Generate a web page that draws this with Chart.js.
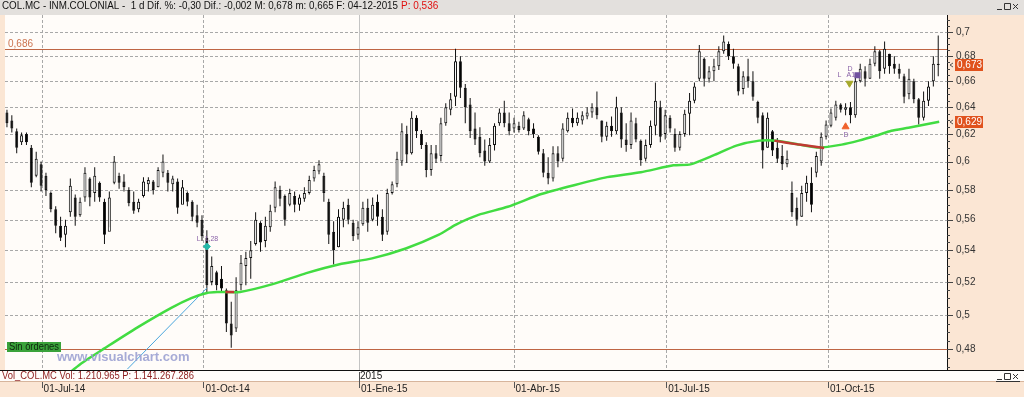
<!DOCTYPE html>
<html>
<head>
<meta charset="utf-8">
<script src="https://cdn.jsdelivr.net/npm/chart.js@4/dist/chart.umd.min.js"></script>
<style>
html, body { margin: 0; padding: 0; background: #fbe6d4; }
#wrap { width: 1024px; height: 397px; }
</style>
</head>
<body>
<div id="wrap"><canvas id="chart" width="1024" height="397"></canvas></div>
<script>
// candles, one candle per two sessions (Jun-14 .. 04-Dec-15)
const highs = [
  .638,.634,.624,.621,.621,.612,.607,.600,.592,.579,.569,.562,
  .560,.588,.577,.575,.596,.589,.596,.586,.574,.579,.604,.592,
  .591,.582,.579,.574,.589,.589,.587,.596,.605,.594,.590,.588,
  .587,.579,.573,.570,.563,.553,.536,.527,.530,.516,.508,.523,
  .537,.539,.546,.565,.559,.562,.570,.586,.583,.577,.581,.579,
  .577,.582,.590,.597,.601,.592,.574,.559,.567,.572,.574,.560,
  .559,.572,.574,.575,.577,.567,.581,.586,.607,.628,.626,.637,
  .634,.623,.614,.612,.612,.632,.643,.651,.686,.680,.658,.647,
  .636,.625,.616,.617,.628,.639,.645,.636,.632,.629,.637,.632,
  .628,.619,.609,.603,.611,.611,.628,.636,.639,.636,.637,.640,
  .643,.652,.630,.629,.633,.648,.640,.628,.636,.632,.616,.616,
  .630,.659,.645,.638,.634,.624,.622,.638,.651,.659,.689,.679,
  .672,.678,.688,.697,.692,.686,.674,.668,.678,.668,.645,.636,
  .636,.623,.617,.612,.608,.586,.575,.583,.590,.596,.607,.621,
  .630,.639,.645,.643,.643,.644,.666,.674,.672,.678,.688,.685,
  .692,.682,.680,.674,.666,.670,.662,.647,.652,.660,.680,.697
];
const lows = [
  .625,.621,.606,.612,.612,.582,.589,.579,.576,.565,.551,.546,
  .542,.562,.556,.562,.572,.569,.572,.572,.544,.555,.584,.581,
  .579,.569,.564,.565,.575,.579,.577,.582,.589,.579,.579,.564,
  .574,.569,.559,.555,.546,.513,.518,.515,.514,.490,.481,.490,
  .515,.518,.522,.543,.539,.542,.552,.565,.569,.556,.569,.565,
  .566,.572,.577,.586,.591,.572,.544,.531,.542,.555,.557,.546,
  .547,.556,.552,.559,.556,.546,.550,.577,.582,.597,.599,.605,
  .617,.609,.589,.590,.599,.600,.626,.634,.641,.647,.628,.617,
  .612,.603,.597,.599,.608,.626,.625,.619,.621,.621,.623,.619,
  .617,.605,.589,.584,.586,.596,.600,.621,.625,.626,.627,.631,
  .632,.631,.614,.615,.618,.620,.610,.607,.609,.614,.597,.600,
  .610,.619,.614,.616,.621,.607,.608,.618,.619,.643,.660,.656,
  .659,.660,.669,.682,.677,.670,.649,.650,.655,.645,.628,.595,
  .610,.604,.599,.594,.596,.562,.556,.562,.572,.565,.589,.597,
  .616,.625,.630,.636,.634,.628,.632,.659,.656,.662,.672,.662,
  .666,.666,.666,.662,.643,.646,.643,.627,.630,.641,.656,.664
];
const opens = [
  .636,.630,.622,.614,.620,.610,.590,.598,.590,.578,.567,.556,
  .550,.565,.575,.563,.575,.588,.578,.585,.572,.552,.585,.590,
  .586,.580,.572,.567,.576,.584,.586,.582,.592,.592,.584,.586,
  .570,.578,.572,.563,.560,.548,.520,.526,.522,.515,.495,.492,
  .518,.530,.535,.544,.558,.546,.555,.568,.580,.576,.570,.576,
  .570,.574,.578,.588,.593,.590,.572,.552,.542,.560,.570,.558,
  .550,.557,.568,.560,.572,.562,.552,.578,.584,.600,.620,.606,
  .632,.620,.612,.594,.606,.604,.628,.638,.648,.676,.655,.642,
  .624,.618,.608,.600,.612,.628,.636,.628,.624,.626,.624,.631,
  .624,.618,.606,.592,.588,.606,.602,.622,.632,.628,.630,.633,
  .636,.640,.630,.618,.626,.622,.636,.616,.612,.628,.615,.602,
  .612,.626,.640,.620,.632,.620,.610,.620,.635,.645,.662,.678,
  .662,.668,.672,.684,.690,.680,.672,.654,.664,.660,.644,.634,
  .610,.622,.610,.604,.598,.578,.568,.562,.578,.585,.592,.600,
  .618,.626,.632,.642,.638,.640,.634,.660,.668,.662,.674,.684,
  .670,.682,.674,.670,.664,.650,.660,.646,.632,.645,.660,.674
];
const closes = [
  .628,.624,.610,.619,.614,.585,.602,.583,.580,.567,.556,.548,
  .556,.583,.562,.572,.592,.575,.590,.575,.550,.575,.600,.585,
  .582,.571,.566,.572,.586,.587,.580,.594,.600,.585,.588,.568,
  .582,.572,.562,.558,.549,.518,.530,.518,.516,.495,.488,.515,
  .532,.535,.540,.560,.545,.556,.566,.582,.574,.560,.578,.570,
  .575,.578,.587,.594,.598,.578,.550,.540,.562,.568,.560,.549,
  .555,.568,.558,.570,.562,.550,.578,.584,.602,.622,.605,.632,
  .622,.612,.594,.606,.602,.628,.640,.646,.676,.655,.640,.622,
  .616,.606,.600,.612,.626,.636,.628,.622,.628,.623,.634,.622,
  .620,.607,.592,.588,.606,.600,.624,.632,.628,.632,.634,.636,
  .640,.634,.618,.626,.622,.640,.616,.612,.630,.616,.601,.612,
  .626,.645,.618,.634,.624,.610,.620,.635,.645,.656,.684,.662,
  .668,.672,.684,.692,.680,.674,.652,.664,.660,.648,.632,.608,
  .632,.608,.602,.598,.602,.565,.560,.578,.585,.570,.604,.618,
  .627,.636,.642,.638,.640,.634,.660,.670,.662,.674,.684,.668,
  .686,.672,.670,.666,.648,.662,.646,.632,.645,.656,.674,.673
];

// long moving average, read at candle positions
const maIdx = [13.3, 15.3, 20.0, 26.7, 33.7, 37.8, 41.0, 43.1, 47.8, 54.5, 61.4, 68.2,
  74.9, 81.8, 88.6, 92.0, 96.7, 102.7, 109.6, 116.3, 123.1, 130.0, 136.7, 140.2,
  144.9, 149.6, 154.3, 157.8, 162.5, 166.5, 171.2, 174.7, 178.2, 181.4, 184.9, 191.2];
const maVal = [0.4679, 0.4722, 0.4806, 0.4926, 0.5043, 0.5102, 0.5133, 0.5139, 0.5139, 0.5187, 0.5255, 0.5311,
  0.5348, 0.5411, 0.5501, 0.5566, 0.5632, 0.5686, 0.5773, 0.5834, 0.5890, 0.5924, 0.5973, 0.5980,
  0.6044, 0.6115, 0.6151, 0.6151, 0.6122, 0.6101, 0.6122, 0.6151, 0.6187, 0.6224, 0.6246, 0.629];
// stretches where the average is drawn red
const maRedIdx = [44.8, 46.6, 100, 157.4, 162.5, 167.6];
const maRedVal = [0.5139, 0.5139, null, 0.6151, 0.6122, 0.6098];

// hand drawn trend line
const trendIdx = [24.7, 41.0];
const trendVal = [0.4689, 0.5163];

// horizontal levels
const levels = [0.686, 0.48];
const levelText = '0,686';

// axes
const Y_MIN = 0.4684, Y_MAX = 0.7141;
const yTickVals = [0.48, 0.5, 0.52, 0.54, 0.56, 0.58, 0.6, 0.62, 0.64, 0.66, 0.68, 0.7];
const yTickText = ['0,48', '0,5', '0,52', '0,54', '0,56', '0,58', '0,6', '0,62', '0,64', '0,66', '0,68', '0,7'];
const xTickPos = [7.1, 40.3, 72.2, 103.9, 135.2, 168.4];
const xTickText = ['01-Jul-14', '01-Oct-14', '01-Ene-15', '01-Abr-15', '01-Jul-15', '01-Oct-15'];

const headerText = 'COL.MC - INM.COLONIAL -  1 d Dif. %: -0,30 Dif.: -0,002 M: 0,678 m: 0,665 F: 04-12-2015';
const headerPrice = 'P: 0,536';
const volText = 'Vol_COL.MC Vol: 1.210.965 P: 1.141.267.286';

const FONT = '"Liberation Sans", Arial, sans-serif';
const PLOT_BG = '#fffcf9', AXIS_BG = '#fbe6d4', HEADER_BG = '#e3e0dd';

const fmt = v => String(+v.toFixed(3)).replace('.', ',');

// dashed horizontal line, drawn as short segments
function hDash(ctx, x0, x1, py) {
    for (let px = x0; px < x1; px += 5) {
        ctx.fillRect(px, py, Math.min(3, x1 - px), 1);
    }
}

const decor = {
    id: 'decor',
    beforeDraw(chart) {
        const {ctx, chartArea: a, width, height} = chart;
        ctx.save();
        ctx.fillStyle = AXIS_BG;
        ctx.fillRect(0, 0, width, height);
        ctx.fillStyle = PLOT_BG;
        ctx.fillRect(a.left, a.top, a.right - a.left, a.bottom - a.top);
        ctx.fillStyle = HEADER_BG;
        ctx.fillRect(0, 0, width, a.top);
        ctx.fillStyle = '#fffdfb'; // volume strip
        ctx.fillRect(0, a.bottom, width, 11);
        ctx.restore();
    },
    beforeDatasetsDraw(chart) {
        const {ctx, chartArea: a, scales: {x, y}} = chart;
        ctx.save();
        ctx.lineWidth = 1;
        // dashed grid
        ctx.fillStyle = '#a8a8a8';
        yTickVals.forEach(v => {
            hDash(ctx, a.left, a.right, Math.round(y.getPixelForValue(v)));
        });
        ctx.strokeStyle = '#a8a8a8';
        ctx.setLineDash([3, 2]);
        xTickPos.forEach((v, i) => {
            if (i === 2) return;
            const px = Math.round(x.getPixelForValue(v)) + 0.5;
            ctx.beginPath();
            ctx.moveTo(px, a.top);
            ctx.lineTo(px, a.bottom);
            ctx.stroke();
        });
        ctx.setLineDash([]);
        // january line is solid
        const jx = Math.round(x.getPixelForValue(xTickPos[2])) + 0.5;
        ctx.strokeStyle = '#c4c4c4';
        ctx.beginPath();
        ctx.moveTo(jx, a.top);
        ctx.lineTo(jx, a.bottom);
        ctx.stroke();
        // levels
        ctx.strokeStyle = '#bf6544';
        levels.forEach(v => {
            const py = Math.round(y.getPixelForValue(v)) + 0.5;
            ctx.beginPath();
            ctx.moveTo(5, py);
            ctx.lineTo(a.right, py);
            ctx.stroke();
        });
        ctx.restore();
    },
    afterDraw(chart) {
        const {ctx, chartArea: a, width, scales: {x, y}} = chart;
        ctx.save();
        ctx.textBaseline = 'middle';

        // header
        ctx.font = '10px ' + FONT;
        ctx.fillStyle = '#111';
        ctx.fillText(headerText, 2, 6, 396);
        ctx.fillStyle = '#e01010';
        ctx.fillText(headerPrice, 401, 6, 44);

        // level label
        ctx.fillStyle = '#cc7450';
        ctx.fillText(levelText, 8, y.getPixelForValue(levels[0]) - 5);

        // axis lines
        ctx.strokeStyle = '#111';
        ctx.lineWidth = 1;
        ctx.beginPath();
        ctx.moveTo(0, a.bottom + 0.5);
        ctx.lineTo(width, a.bottom + 0.5);
        ctx.moveTo(a.right + 0.5, a.top);
        ctx.lineTo(a.right + 0.5, a.bottom);
        ctx.stroke();
        ctx.strokeStyle = '#d7b59c';
        ctx.beginPath();
        ctx.moveTo(0, a.bottom + 11.5);
        ctx.lineTo(width, a.bottom + 11.5);
        ctx.stroke();

        // volume text
        ctx.font = '10px ' + FONT;
        ctx.fillStyle = '#8c1a1a';
        ctx.fillText(volText, 2, a.bottom + 6, 192);

        // x tick marks
        ctx.strokeStyle = '#555';
        xTickPos.forEach((v, i) => {
            const px = Math.round(x.getPixelForValue(v)) + 0.5;
            ctx.beginPath();
            ctx.moveTo(px, i === 2 ? a.bottom + 2 : a.bottom + 12);
            ctx.lineTo(px, a.bottom + 18);
            ctx.stroke();
        });
        ctx.fillStyle = '#222';
        ctx.fillText('2015', Math.round(x.getPixelForValue(xTickPos[2])) + 1, a.bottom + 6);

        // y tick marks every 0,005
        ctx.strokeStyle = '#444';
        for (let k = 93; k <= 143; k++) {
            const py = Math.round(y.getPixelForValue(k * 0.005)) + 0.5;
            if (py < a.top || py > a.bottom) continue;
            ctx.beginPath();
            ctx.moveTo(a.right, py);
            ctx.lineTo(a.right + (k % 4 === 0 ? 6 : 3), py);
            ctx.stroke();
        }

        // last value boxes
        [closes[closes.length - 1], maVal[maVal.length - 1]].forEach(v => {
            const py = Math.round(y.getPixelForValue(v));
            ctx.strokeStyle = '#555';
            ctx.beginPath();
            ctx.moveTo(a.right + 6, py - 2);
            ctx.lineTo(a.right + 3, py);
            ctx.lineTo(a.right + 6, py + 2);
            ctx.stroke();
            ctx.fillStyle = '#e0521d';
            ctx.fillRect(a.right + 8, py - 6, 28, 12);
            ctx.fillStyle = '#fff';
            ctx.font = '10px ' + FONT;
            ctx.fillText(fmt(v), a.right + 10, py);
        });

        // marker captions
        const cx = x.getPixelForValue(41.0), cy = y.getPixelForValue(0.5424);
        ctx.fillStyle = '#8a62a8';
        ctx.font = '7px ' + FONT;
        ctx.fillText('L  1,28', cx - 10, cy - 7);
        const ox = x.getPixelForValue(172.8), oy = y.getPixelForValue(0.6585);
        ctx.fillText('D', ox - 2, oy - 14);
        ctx.fillText('L', ox - 12, oy - 8);
        ctx.fillText('A1', ox - 3, oy - 8);
        ctx.fillStyle = '#7050a0';
        ctx.fillRect(ox + 5, oy - 11, 6, 6);
        const rx = x.getPixelForValue(172.0), ry = y.getPixelForValue(0.6253);
        ctx.fillStyle = '#8a62a8';
        ctx.fillText('D', rx - 2, ry + 8);

        // order box
        ctx.fillStyle = '#3aa23a';
        ctx.fillRect(7, 342, 54, 10);
        ctx.fillStyle = '#0d260d';
        ctx.font = '10px ' + FONT;
        ctx.fillText('Sin órdenes', 9, 347.5, 50);

        // watermark
        ctx.fillStyle = 'rgba(150, 156, 208, 0.85)';
        ctx.font = 'bold 13px ' + FONT;
        ctx.fillText('www.visualchart.com', 57, 357);

        // window buttons
        [[3, false], [373, true]].forEach(([by, under]) => {
            ctx.strokeStyle = '#333';
            ctx.beginPath();
            ctx.moveTo(997, by + 6.5); ctx.lineTo(1002, by + 6.5);
            ctx.rect(1004.5, by + 0.5, 6, 6);
            ctx.moveTo(1013, by + 1); ctx.lineTo(1018, by + 6);
            ctx.moveTo(1018, by + 1); ctx.lineTo(1013, by + 6);
            if (under) { ctx.moveTo(996, by + 8.5); ctx.lineTo(1020, by + 8.5); }
            ctx.stroke();
        });
        ctx.restore();
    }
};

const idx = highs.map((_, i) => i);

new Chart(document.getElementById('chart'), {
    type: 'bar',
    data: {
        datasets: [
            {
                type: 'line', label: 'trend', order: 1,
                data: trendIdx.map((v, i) => ({x: v, y: trendVal[i]})),
                borderColor: '#4aa6dc', borderWidth: 1, pointRadius: 0
            },
            {
                type: 'line', label: 'media', order: 0,
                data: maIdx.map((v, i) => ({x: v, y: maVal[i]})),
                borderColor: '#42dc42', borderWidth: 2.5, pointRadius: 0, tension: 0.2
            },
            {
                type: 'line', label: 'media roja', order: -1,
                data: maRedIdx.map((v, i) => ({x: v, y: maRedVal[i]})),
                borderColor: '#c03a32', borderWidth: 2.5, pointRadius: 0, tension: 0.2
            },
            {
                type: 'line', label: 'marcas', order: -2, showLine: false,
                data: [{x: 41.0, y: 0.5424}, {x: 172.8, y: 0.6585}, {x: 172.0, y: 0.6253}],
                pointStyle: ['rectRot', 'triangle', 'triangle'],
                rotation: [0, 180, 0],
                pointRadius: [3.5, 4, 4],
                pointBackgroundColor: ['#25b8a8', '#a6a82a', '#f0622c'],
                pointBorderColor: ['#25b8a8', '#a6a82a', '#f0622c']
            },
            {
                label: 'mecha', order: 3, grouped: false, maxBarThickness: 1,
                data: idx.map(i => ({x: i, y: [lows[i], highs[i]]})),
                backgroundColor: '#111'
            },
            {
                label: 'cuerpo', order: 2, grouped: false, maxBarThickness: 3,
                data: idx.map(i => ({x: i, y: [opens[i], closes[i]]})),
                backgroundColor: idx.map(i => closes[i] >= opens[i] ? '#ffffff' : '#000000'),
                borderColor: '#111', borderWidth: 1, borderSkipped: false
            }
        ]
    },
    options: {
        responsive: false,
        animation: false,
        layout: { padding: { top: 11, left: 0, right: 0, bottom: 0 } },
        plugins: { legend: { display: false }, tooltip: { enabled: false } },
        scales: {
            x: {
                type: 'linear', min: -0.4, max: 192.8, offset: false,
                afterBuildTicks: s => { s.ticks = xTickPos.map(v => ({value: v})); },
                afterFit: s => { s.height = 27; },
                ticks: {
                    callback: (v, i) => xTickText[i],
                    align: 'start', labelOffset: 2, padding: 13,
                    maxRotation: 0, autoSkip: false, color: '#222',
                    font: { family: FONT, size: 10 }
                },
                grid: { display: false, drawTicks: false, offset: false },
                border: { display: false }
            },
            y: {
                type: 'logarithmic', position: 'right', min: Y_MIN, max: Y_MAX,
                afterBuildTicks: s => { s.ticks = yTickVals.map(v => ({value: v})); },
                afterFit: s => { s.width = 77; },
                ticks: {
                    callback: (v, i) => yTickText[i],
                    padding: 9, color: '#333',
                    font: { family: FONT, size: 10 }
                },
                grid: { display: false, drawTicks: false },
                border: { display: false }
            }
        }
    },
    plugins: [decor]
});
</script>
</body>
</html>
